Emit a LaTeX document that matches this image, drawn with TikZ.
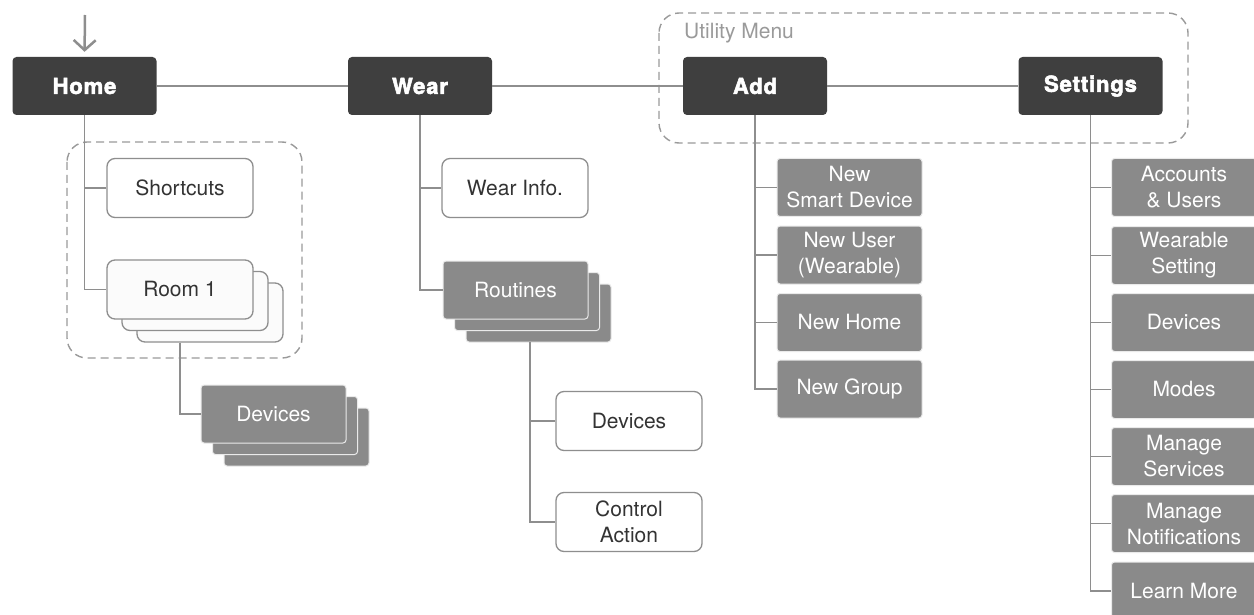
\documentclass[tikz,border=0pt]{standalone}
\usepackage{fontspec}
\setmainfont{TeX Gyre Heros}
\newfontfamily\heavyfont{TeX Gyre Heros Bold}[FakeBold=2.5, LetterSpace=4]
\usetikzlibrary{arrows.meta,calc}
\definecolor{dark}{HTML}{3F3F3F}
\definecolor{mid}{HTML}{8A8A8A}
\definecolor{linegray}{HTML}{8E8E8E}
\definecolor{dashgray}{HTML}{9A9A9A}
\definecolor{txt}{HTML}{333333}
\definecolor{paper}{HTML}{FBFBFB}
\tikzset{
  mainbox/.style={fill=dark, rounded corners=4pt, minimum width=144pt, minimum height=58pt,
    inner sep=0pt, text=white, font=\heavyfont\fontsize{22}{26}\selectfont},
  subbox/.style={fill=mid, draw=white!82!mid, line width=1pt, rounded corners=3pt,
    minimum width=145pt, minimum height=58pt, inner sep=0pt, text=white, align=center,
    font=\fontsize{21}{26}\selectfont},
  leafbox/.style={fill=white, draw=linegray, line width=1.3pt, rounded corners=8pt,
    minimum width=146pt, minimum height=59pt, inner sep=0pt, text=txt, align=center,
    font=\fontsize{21}{26}\selectfont},
  link/.style={draw=linegray, line width=1.8pt},
  groupframe/.style={draw=dashgray, line width=1.4pt, dash pattern=on 8pt off 5pt, rounded corners=20pt},
}
\begin{document}
\begin{tikzpicture}[x=1pt, y=-1pt]
\useasboundingbox (0,0) rectangle (1254,615);
\fill[white] (0,0) rectangle (1254,615);

% group frames
\draw[groupframe] (67,142) rectangle (302,358);
\draw[groupframe] (659,13) rectangle (1188,143);
\node[anchor=west, text=dashgray, inner sep=0pt, font=\fontsize{21}{25}\selectfont] (utility) at (684,33) {Utility Menu};

% top level
\node[mainbox] (home) at (84.5,86) {Home};
\node[mainbox] (wear) at (420,86) {Wear};
\node[mainbox] (add) at (755,86) {Add};
\node[mainbox] (settings) at (1090.5,86) {Settings};
\coordinate (entry) at (85,15);

% home branch
\node[leafbox] (shortcuts) at (180,188) {Shortcuts};
\node[leafbox, fill=paper] (room1c) at (210,312.5) {};
\node[leafbox, fill=paper] (room1b) at (195,301) {};
\node[leafbox, fill=paper] (room1) at (180,289.5) {Room 1};
\node[subbox] (dev1c) at (296.5,437) {};
\node[subbox] (dev1b) at (285,425.5) {};
\node[subbox] (dev1) at (273.5,414) {Devices};

% wear branch
\node[leafbox] (winfo) at (515,188) {Wear Info.};
\node[subbox] (routc) at (538.5,313) {};
\node[subbox] (routb) at (527,301.5) {};
\node[subbox] (rout) at (515.5,290) {Routines};
\coordinate (rtop) at (530,342);
\node[leafbox] (rdev) at (629,421) {Devices};
\node[leafbox] (ctrl) at (629,522) {Control\\Action};

% add branch
\node[subbox] (nsd) at (849.5,187.5) {New\\Smart Device};
\node[subbox] (nuser) at (849.5,255) {New User\\(Wearable)};
\node[subbox] (nhome) at (849.5,322.5) {New Home};
\node[subbox] (ngroup) at (849.5,389) {New Group};

% settings branch
\node[subbox] (acc) at (1184,187.5) {Accounts\\\& Users};
\node[subbox] (wset) at (1184,255.5) {Wearable\\Setting};
\node[subbox] (sdev) at (1184,322.5) {Devices};
\node[subbox] (modes) at (1184,389.5) {Modes};
\node[subbox] (msrv) at (1184,456.5) {Manage\\Services};
\node[subbox] (mnot) at (1184,523.5) {Manage\\Notifications};
\node[subbox] (learn) at (1184,591) {Learn More};

% connectors
\draw[link, line width=2.5pt, -{Straight Barb[length=10pt, width=22pt, line width=2.5pt]}, shorten >=5pt] (entry) -- (home.north);
\draw[link] (home.east) -- (wear.west);
\draw[link] (wear.east) -- (add.west);
\draw[link] (add.east) -- (settings.west);

\draw[link] (home.south) |- (room1.west);
\draw[link] (home.south |- shortcuts.west) -- (shortcuts.west);
\draw[link] (room1.south |- room1c.south) |- (dev1.west);

\draw[link] (wear.south) |- (rout.west);
\draw[link] (wear.south |- winfo.west) -- (winfo.west);
\draw[link] (rtop) |- (ctrl.west);
\draw[link] (rtop |- rdev.west) -- (rdev.west);

\draw[link] (add.south) |- (ngroup.west);
\foreach \n in {nsd,nuser,nhome} \draw[link] (add.south |- \n.west) -- (\n.west);

\draw[link] (settings.south) |- (learn.west);
\foreach \n in {acc,wset,sdev,modes,msrv,mnot} \draw[link] (settings.south |- \n.west) -- (\n.west);
\end{tikzpicture}
\end{document}
